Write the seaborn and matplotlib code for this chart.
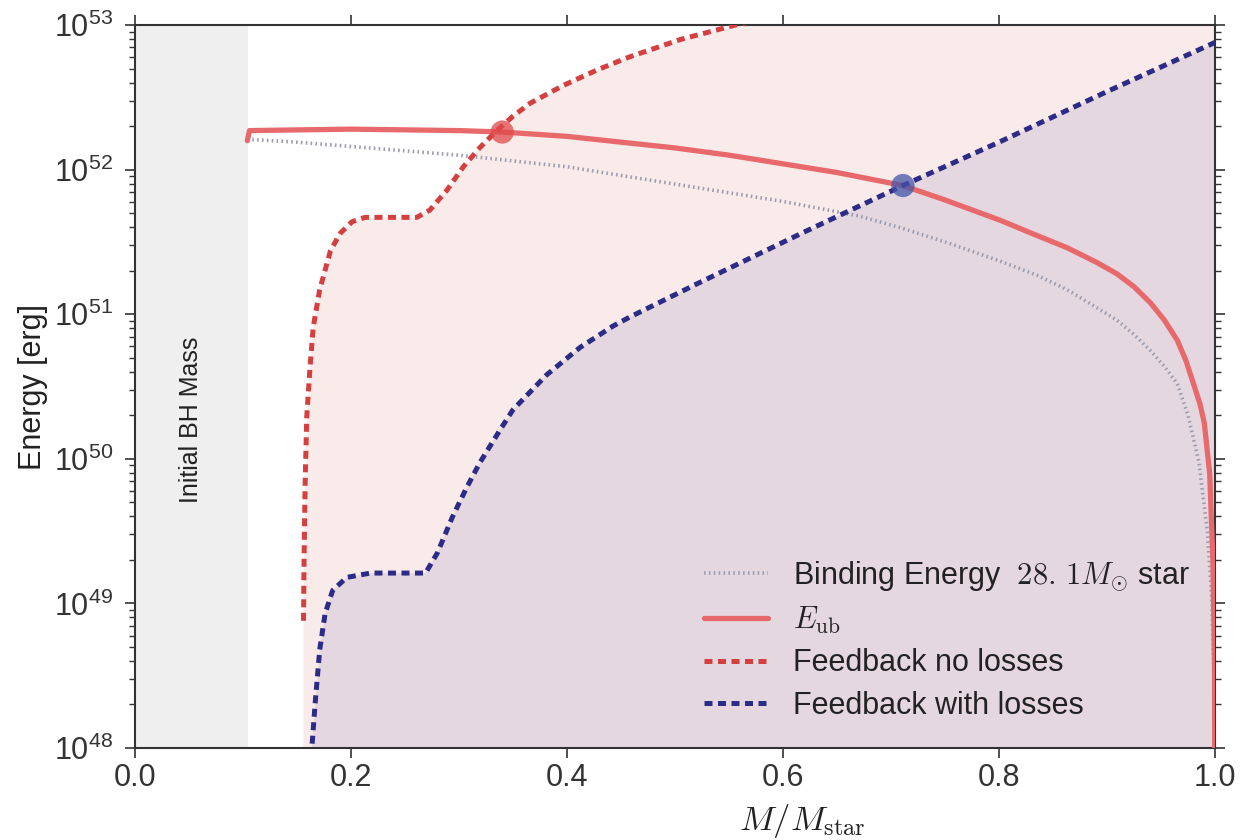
import numpy as np
import pandas as pd
import matplotlib
matplotlib.use("Agg")
import matplotlib.pyplot as plt
import seaborn as sns

# ---- data ----
bind_x = [0.104, 0.15, 0.20, 0.30, 0.40, 0.458, 0.55, 0.60, 0.67, 0.708, 0.75, 0.80, 0.835,
          0.863, 0.885, 0.909, 0.925, 0.94, 0.953, 0.965, 0.975, 0.985, 0.993, 0.997, 0.9993, 1.0]
bind_log = [52.21, 52.19, 52.16, 52.10, 52.02, 51.95, 51.84, 51.78, 51.68, 51.60, 51.50, 51.37, 51.27,
            51.17, 51.07, 50.96, 50.86, 50.75, 50.64, 50.52, 50.30, 49.98, 49.49, 49.02, 48.4, 47.0]

eub_x = [0.104, 0.106, 0.20, 0.30, 0.34, 0.40, 0.45, 0.50, 0.55, 0.60, 0.65, 0.711, 0.75,
         0.801, 0.83, 0.863, 0.89, 0.909, 0.925, 0.94, 0.953, 0.965, 0.973, 0.98, 0.986,
         0.99, 0.995, 0.998, 0.9995, 1.0]
eub_log = [52.20, 52.27, 52.28, 52.27, 52.26, 52.23, 52.19, 52.15, 52.10, 52.04, 51.98, 51.89, 51.79,
           51.65, 51.56, 51.46, 51.36, 51.28, 51.19, 51.08, 50.96, 50.82, 50.68, 50.52, 50.38,
           50.25, 49.9, 49.3, 48.6, 47.0]

fb_x = [0.1560, 0.1565, 0.1575, 0.159, 0.162, 0.165, 0.171, 0.181, 0.190, 0.201, 0.213,
        0.261, 0.273, 0.289, 0.304, 0.319, 0.335, 0.350, 0.366, 0.396, 0.428, 0.458,
        0.505, 0.556, 0.65, 0.80, 1.0]
fb_log = [48.88, 49.30, 49.83, 50.29, 50.63, 50.91, 51.17, 51.44, 51.56, 51.64, 51.67,
          51.67, 51.72, 51.86, 52.02, 52.15, 52.27, 52.37, 52.46, 52.58, 52.69, 52.78,
          52.90, 53.00, 53.15, 53.35, 53.55]

fbl_x = [0.164, 0.167, 0.171, 0.176, 0.183, 0.196, 0.218, 0.269, 0.280, 0.294, 0.307,
         0.319, 0.338, 0.350, 0.381, 0.412, 0.443, 0.458, 0.523, 0.62, 0.711, 0.80, 0.90, 1.0]
fbl_log = [48.03, 48.33, 48.68, 48.93, 49.09, 49.18, 49.21, 49.21, 49.35, 49.60, 49.80,
           49.97, 50.20, 50.34, 50.58, 50.77, 50.92, 50.98, 51.22, 51.57, 51.89, 52.19, 52.54, 52.88]

cross_x = [0.34, 0.711]
cross_log = [52.26, 51.89]

bh_mass = 0.105

RED = "#d43f3f"
RED_LIGHT = "#e8696c"
BLUE = "#2c2c86"
GRAY = "#9d9db0"

sns.set_theme(style="ticks")
plt.rcParams["font.family"] = ["Liberation Sans", "DejaVu Sans"]
plt.rcParams["mathtext.fontset"] = "cm"
plt.rcParams["axes.edgecolor"] = "#333333"
plt.rcParams["xtick.color"] = "#333333"
plt.rcParams["ytick.color"] = "#333333"
plt.rcParams["text.color"] = "#222222"
plt.rcParams["axes.labelcolor"] = "#222222"

fig = plt.figure(figsize=(12.41, 8.40), dpi=100)
ax = fig.add_axes([0.1088, 0.1095, 0.8703, 0.8607])
ax.set_yscale("log")

pw = lambda a: np.power(10.0, np.array(a))
bind = pd.DataFrame({"x": bind_x, "y": pw(bind_log)})
eub = pd.DataFrame({"x": eub_x, "y": pw(eub_log)})
fb = pd.DataFrame({"x": fb_x, "y": pw(fb_log)})
fbl = pd.DataFrame({"x": fbl_x, "y": pw(fbl_log)})
cross = pd.DataFrame({"x": cross_x, "y": pw(cross_log), "c": ["r", "b"]})

ax.axvspan(0, bh_mass, color="#efefef", zorder=0, lw=0)
ax.fill_between(fb["x"], 1e46, fb["y"], color=RED, alpha=0.1, lw=0, zorder=1)
ax.fill_between(fbl["x"], 1e46, fbl["y"], color=BLUE, alpha=0.1, lw=0, zorder=1)

sns.lineplot(data=bind, x="x", y="y", ax=ax, sort=False, color=GRAY, lw=2.6,
             linestyle=(0, (0.45, 0.9)), label=r"Binding Energy  $28.\,1M_{\odot}$ star", zorder=3)
sns.lineplot(data=eub, x="x", y="y", ax=ax, sort=False, color=RED_LIGHT, lw=3.8,
             label=r"$E_{\rm ub}$", zorder=4)
sns.lineplot(data=fb, x="x", y="y", ax=ax, sort=False, color=RED, lw=3.6,
             linestyle=(0, (1.6, 1.1)), label="Feedback no losses", zorder=5)
sns.lineplot(data=fbl, x="x", y="y", ax=ax, sort=False, color=BLUE, lw=3.6,
             linestyle=(0, (1.6, 1.1)), label="Feedback with losses", zorder=5)
sns.scatterplot(data=cross, x="x", y="y", hue="c", palette={"r": "#e04a4a", "b": "#4455a8"},
                s=280, alpha=0.75, edgecolor="none", ax=ax, legend=False, zorder=6)

ax.text(0.052, 10**50.27, "Initial BH Mass", rotation=90, ha="center", va="center",
        fontsize=18, color="#222222")

ax.set_xlim(0, 1)
ax.set_ylim(1e48, 1e53)
ax.set_xticks([0.0, 0.2, 0.4, 0.6, 0.8, 1.0])
ax.set_xticklabels(["0.0", "0.2", "0.4", "0.6", "0.8", "1.0"])
ax.tick_params(axis="both", which="major", labelsize=22, length=7, width=1.2,
               direction="out", top=True, right=True)
ax.tick_params(axis="y", which="major", pad=9)
ax.tick_params(axis="y", which="minor", length=4, width=1.0, direction="out", right=True)
for s in ax.spines.values():
    s.set_linewidth(1.5)
    s.set_visible(True)

ax.set_xlabel(r"$M/M_{\rm star}$", fontsize=25)
ax.xaxis.set_label_coords(0.618, -0.075)
ax.set_ylabel("Energy [erg]", fontsize=22)
ax.yaxis.set_label_coords(-0.081, 0.5)

leg = ax.legend(loc="lower right", bbox_to_anchor=(1.002, 0.0), frameon=False, fontsize=22,
                handlelength=2.1, handletextpad=0.8, labelspacing=0.4)

fig.savefig("out.png", dpi=100)
